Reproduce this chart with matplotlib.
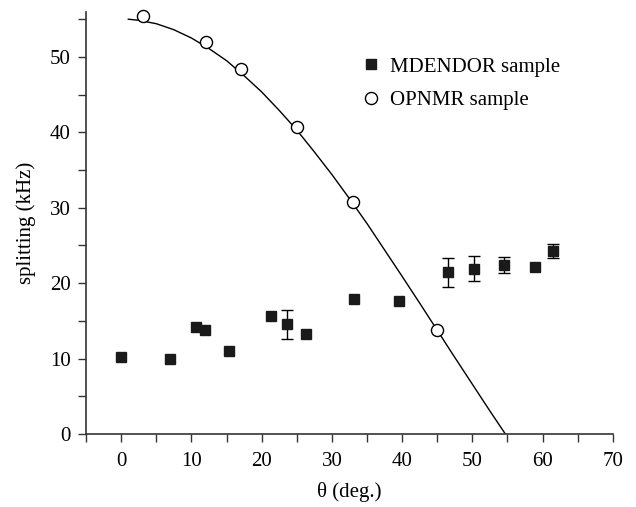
import matplotlib
matplotlib.use("Agg")
import matplotlib.pyplot as plt
from matplotlib.ticker import MultipleLocator

plt.rcParams['font.family'] = ['Liberation Serif', 'DejaVu Serif']

# MDENDOR sample (filled squares)
md_theta = [0.0, 6.95, 10.65, 11.9, 15.3, 21.3, 23.6, 26.3, 33.2, 39.5, 46.6, 50.3, 54.5, 58.9, 61.55]
md_split = [10.2, 10.0, 14.2, 13.8, 11.0, 15.65, 14.55, 13.2, 17.95, 17.65, 21.45, 21.9, 22.45, 22.2, 24.25]
md_err = [0, 0, 0, 0, 0, 0, 1.9, 0, 0, 0, 1.95, 1.65, 1.05, 0, 0.95]

# OPNMR sample (open circles)
op_theta = [3.05, 12.1, 17.05, 25.05, 33.05, 45.0]
op_split = [55.4, 52.0, 48.45, 40.7, 30.8, 13.8]

# Curve
curve_theta = [1.0, 2.5, 5.0, 7.5, 10.0, 12.5, 15.0, 17.5, 20.0, 22.5, 25.0, 27.5,
               30.0, 32.5, 35.0, 37.5, 40.0, 42.5, 45.0, 47.5, 50.0, 52.5, 54.7]
curve_split = [55.0, 54.85, 54.4, 53.6, 52.5, 51.1, 49.5, 47.5, 45.35, 42.9, 40.3, 37.4,
               34.4, 31.2, 27.9, 24.4, 20.9, 17.35, 13.75, 10.15, 6.6, 3.05, 0.0]

fig = plt.figure(figsize=(6.36, 5.07), dpi=100)
ax = fig.add_axes([0.1355, 0.144, 0.828, 0.833])

ax.plot(curve_theta, curve_split, color='black', lw=1.0, zorder=2)

md_t_e = [t for t, e in zip(md_theta, md_err) if e > 0]
md_s_e = [s for s, e in zip(md_split, md_err) if e > 0]
md_e = [e for e in md_err if e > 0]
ax.errorbar(md_t_e, md_s_e, yerr=md_e, fmt='none', ecolor='black', elinewidth=1.0,
            capsize=4, capthick=1.0, zorder=3)
ax.plot(md_theta, md_split, linestyle='none', marker='s', markersize=7,
        color='#1a1a1a', markeredgecolor='#1a1a1a', label='MDENDOR sample', zorder=4,
        clip_on=False)
ax.plot(op_theta, op_split, linestyle='none', marker='o', markersize=8.7,
        markerfacecolor='white', markeredgecolor='black', markeredgewidth=1.0,
        label='OPNMR sample', zorder=4, clip_on=False)

ax.set_xlim(-5, 70)
ax.set_ylim(0, 56)
ax.xaxis.set_major_locator(MultipleLocator(10))
ax.xaxis.set_minor_locator(MultipleLocator(5))
ax.yaxis.set_major_locator(MultipleLocator(10))
ax.yaxis.set_minor_locator(MultipleLocator(5))
ax.tick_params(which='both', direction='out', length=6, width=1.0, labelsize=15, color='#333333')
ax.tick_params(axis='x', pad=7)
ax.tick_params(axis='y', pad=5)
ax.spines['top'].set_visible(False)
ax.spines['right'].set_visible(False)
for s in ['left', 'bottom']:
    ax.spines[s].set_linewidth(1.2)
    ax.spines[s].set_color('#333333')

ax.set_xlabel('θ (deg.)', fontsize=15, labelpad=8)
ax.set_ylabel('splitting (kHz)', fontsize=15, labelpad=10)

leg = ax.legend(loc='upper left', bbox_to_anchor=(0.505, 0.912), frameon=False,
                fontsize=15, handlelength=1.0, handletextpad=0.4, labelspacing=0.65,
                borderaxespad=0)

fig.savefig('out.png', dpi=100)
